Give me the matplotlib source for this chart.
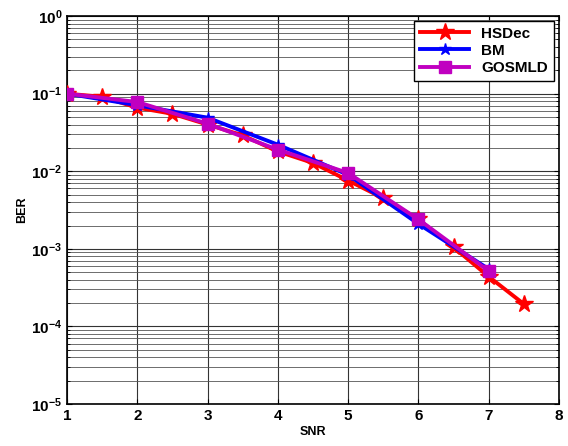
import numpy as np
import matplotlib
matplotlib.use('Agg')
import matplotlib.pyplot as plt
import matplotlib.ticker as tck

plt.rcParams['font.family'] = 'Liberation Sans'
plt.rcParams['font.weight'] = 'bold'

# HSDec decoder, 0.5 dB steps
snr_hsdec = [1, 1.5, 2, 2.5, 3, 3.5, 4, 4.5, 5, 5.5, 6, 6.5, 7, 7.5]
ber_hsdec = [0.1, 0.091, 0.066, 0.055, 0.040, 0.029, 0.018, 0.0128, 0.0076,
             0.0045, 0.0024, 0.00105, 0.00044, 0.000195]

# BM and GOSMLD, 1 dB steps
snr_bm = [1, 2, 3, 4, 5, 6, 7]
ber_bm = [0.1, 0.071, 0.049, 0.022, 0.0090, 0.0021, 0.00055]

snr_gos = [1, 2, 3, 4, 5, 6, 7]
ber_gos = [0.1, 0.078, 0.041, 0.019, 0.0095, 0.0024, 0.00052]

fig = plt.figure(figsize=(5.68, 4.46), dpi=100)
ax = fig.add_axes([0.118, 0.094, 0.866, 0.870])

ax.semilogy(snr_hsdec, ber_hsdec, color='red', lw=2.8, marker='*',
            markersize=13, label='HSDec', zorder=3)
ax.semilogy(snr_bm, ber_bm, color='blue', lw=2.8, marker='*',
            markersize=9, label='BM', zorder=4)
ax.semilogy(snr_gos, ber_gos, color='#c000c0', lw=2.8, marker='s',
            markersize=8, label='GOSMLD', zorder=5)

ax.set_xlim(1, 8)
ax.set_ylim(1e-5, 1)
ax.set_xticks(range(1, 9))
ax.yaxis.set_major_locator(tck.LogLocator(base=10, numticks=10))
ax.yaxis.set_minor_locator(tck.LogLocator(base=10, subs=np.arange(2, 10), numticks=10))
ax.yaxis.set_minor_formatter(tck.NullFormatter())

ax.grid(True, which='major', color='#333333', lw=0.8)
ax.grid(True, which='minor', axis='y', color='#555555', lw=0.6)
ax.tick_params(axis='both', which='both', direction='in', top=True, right=True,
               labelsize=11)
for s in ax.spines.values():
    s.set_linewidth(1.2)

ax.set_xlabel('SNR', fontsize=9, fontweight='bold', labelpad=2)
ax.set_ylabel('BER', fontsize=9, fontweight='bold', labelpad=2)

leg = ax.legend(loc='upper right', fontsize=11, handlelength=3.2,
                fancybox=False, framealpha=1, edgecolor='black',
                borderaxespad=0.3, labelspacing=0.2)
leg.get_frame().set_linewidth(1.0)

plt.savefig('out.png', dpi=100)
